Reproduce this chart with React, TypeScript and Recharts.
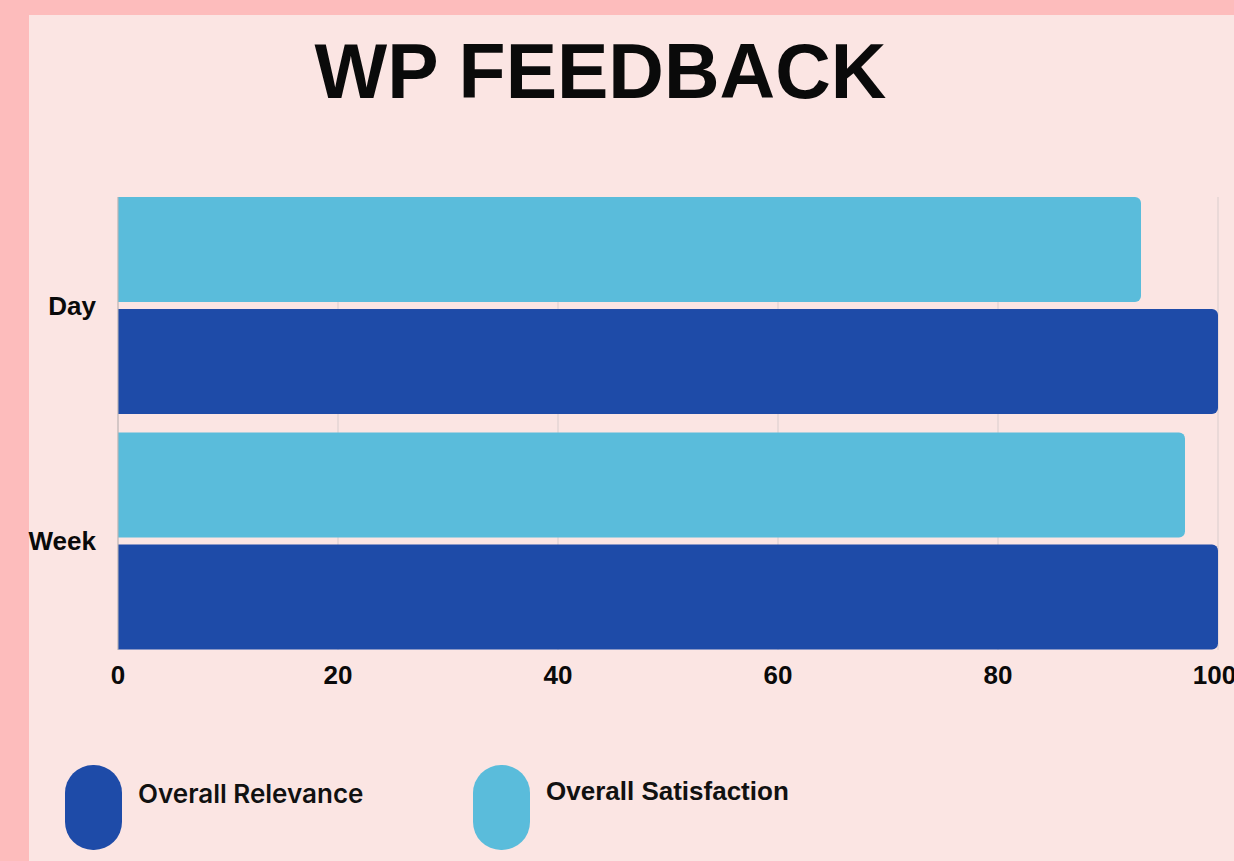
import { BarChart, Bar, XAxis, YAxis, CartesianGrid, Legend } from "recharts";
import type { CSSProperties } from "react";

const categories = ["Day", "Week"];
const relevance = [100, 100];
const satisfaction = [93, 97];
const xTicks = [0, 20, 40, 60, 80, 100];

const DARK = "#1e4ba8";
const LIGHT = "#5abcdb";
const ARIAL = "'Liberation Sans', Arial, sans-serif";

const data = categories.map((name, i) => ({
  name,
  relevance: relevance[i],
  satisfaction: satisfaction[i],
}));

// legend order and per-label font (the two labels use different faces in the original)
const legendOrder = ["relevance", "satisfaction"];
const legendFont: Record<string, CSSProperties> = {
  relevance: { fontFamily: "Inter, sans-serif", fontWeight: 600, fontSize: 26, top: 16 },
  satisfaction: { fontFamily: ARIAL, fontWeight: 700, fontSize: 26, top: 13 },
};

function PillLegend(props: any) {
  const items = [...(props.payload || [])].sort(
    (a: any, b: any) => legendOrder.indexOf(a.dataKey) - legendOrder.indexOf(b.dataKey)
  );
  return (
    <div style={{ position: "relative", width: 1234, height: 111 }}>
      {items.map((it: any, i: number) => (
        <div key={it.dataKey} style={{ position: "absolute", left: 65 + i * 408, top: 15 }}>
          <div style={{ width: 57, height: 85, borderRadius: 28, background: it.color }} />
          <span
            style={{
              position: "absolute",
              left: 73,
              lineHeight: 1,
              color: "#111",
              whiteSpace: "nowrap",
              ...legendFont[it.dataKey],
            }}
          >
            {it.value}
          </span>
        </div>
      ))}
    </div>
  );
}

export default function App() {
  return (
    <div style={{ position: "fixed", left: 0, top: 0, width: 1234, height: 861, background: "#fdbcbc", overflow: "hidden" }}>
      <div style={{ position: "absolute", left: 29, top: 15, right: 0, bottom: 0, background: "#fbe5e3" }} />
      <div
        style={{
          position: "absolute",
          left: 0,
          width: 1201,
          top: 33,
          textAlign: "center",
          fontFamily: ARIAL,
          fontWeight: 700,
          fontSize: 77,
          lineHeight: 1,
          color: "#0a0a0a",
        }}
      >
        WP FEEDBACK
      </div>
      <div style={{ position: "absolute", left: 0, top: 0 }}>
        <BarChart
          width={1234}
          height={861}
          data={data}
          layout="vertical"
          margin={{ top: 197, right: 16, bottom: 161, left: 0 }}
          barCategoryGap={9}
          barGap={7}
        >
          <CartesianGrid horizontal={false} stroke="#d9cdcd" />
          <XAxis
            type="number"
            domain={[0, 100]}
            ticks={xTicks}
            axisLine={false}
            tickLine={false}
            tickSize={0}
            tickMargin={16}
            height={50}
            tick={{ fill: "#0a0a0a", fontSize: 26, fontWeight: 700, fontFamily: ARIAL }}
          />
          <YAxis
            type="category"
            dataKey="name"
            width={118}
            padding={{ top: -9, bottom: -9 }}
            axisLine={{ stroke: "#bfb4b4" }}
            tickLine={false}
            tickSize={0}
            tickMargin={22}
            tick={{ fill: "#0a0a0a", fontSize: 26, fontWeight: 700, fontFamily: ARIAL }}
          />
          <Legend
            layout="horizontal"
            verticalAlign="middle"
            wrapperStyle={{ left: 0, top: 750, width: 1234, height: 111 }}
            content={<PillLegend />}
          />
          <Bar dataKey="satisfaction" name="Overall Satisfaction" fill={LIGHT} radius={[0, 6, 6, 0]} isAnimationActive={false} />
          <Bar dataKey="relevance" name="Overall Relevance" fill={DARK} radius={[0, 6, 6, 0]} isAnimationActive={false} />
        </BarChart>
      </div>
    </div>
  );
}
